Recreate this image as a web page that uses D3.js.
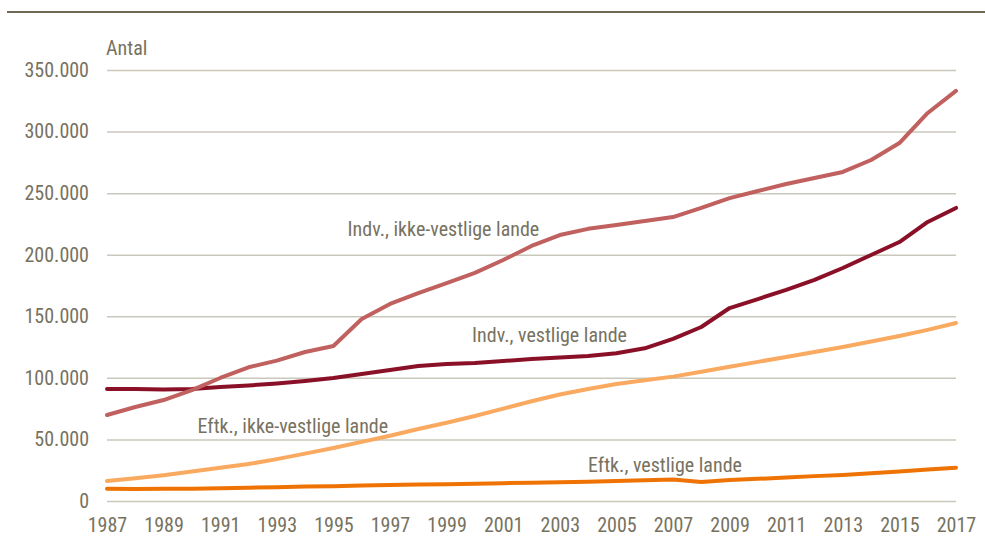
<!DOCTYPE html>
<html>
<head>
<meta charset="utf-8">
<script src="https://cdn.jsdelivr.net/npm/d3@7"></script>
<style>
  body { margin: 0; background: #fff; }
  text { font-family: "Liberation Sans Narrow", "Arial Narrow", "Roboto Condensed", sans-serif; }
</style>
</head>
<body>
<script>
// data
const years = d3.range(1987, 2018);
const indvIkkeVestlige = [69800, 76300, 82000, 90100, 99900, 108600, 114000, 121000, 125900, 147800,
  160000, 168900, 177000, 185200, 195700, 207100, 216000, 221000, 224100, 227400,
  230600, 238000, 246000, 251700, 257400, 262300, 267200, 276900, 290700, 315100, 333000];
const indvVestlige = [91000, 91000, 90600, 91000, 92500, 93800, 95500, 97500, 99900, 103100,
  106400, 109600, 111300, 112000, 113700, 115300, 116500, 117700, 120000, 124000,
  131600, 141300, 156700, 164000, 171400, 179500, 189200, 199800, 210300, 226600, 238000];
const eftkIkkeVestlige = [16200, 18500, 21000, 24000, 27000, 30000, 34000, 38500, 43000, 48000,
  53000, 58500, 63500, 69000, 75000, 81000, 86500, 91000, 95000, 98000,
  101000, 105000, 109000, 113000, 117000, 121000, 125000, 129500, 134000, 139000, 144500];
const eftkVestlige = [10000, 9800, 10000, 10000, 10300, 10800, 11200, 11700, 12000, 12500,
  13000, 13300, 13600, 14000, 14500, 14900, 15300, 15700, 16200, 16800,
  17500, 15500, 17000, 18000, 19000, 20200, 21200, 22500, 24000, 25500, 27000];
const seriesNames = ["Indv., ikke-vestlige lande", "Indv., vestlige lande", "Eftk., ikke-vestlige lande", "Eftk., vestlige lande"];
const seriesValues = [indvIkkeVestlige, indvVestlige, eftkIkkeVestlige, eftkVestlige];
const seriesColors = ["#c0605f", "#8a1028", "#f9aa60", "#ee7304"];
// label anchor: [year, value] where the text starts, on its baseline
const labelAnchors = [[1995.5, 215200], [1999.9, 129100], [1990.2, 55200], [2004.0, 23500]];
const yTicks = d3.range(0, 350001, 50000);
const xTicks = d3.range(1987, 2018, 2);

const width = 985, height = 544;
const margin = { left: 107, right: 29, top: 70, bottom: 43 };
const textColor = "#77725f";
const fontSize = "20px";

const svg = d3.select("body").append("svg")
  .attr("width", width)
  .attr("height", height);

// top rule
svg.append("line")
  .attr("x1", 7).attr("x2", width)
  .attr("y1", 12).attr("y2", 12)
  .attr("stroke", "#6f6a55").attr("stroke-width", 2);

const x = d3.scaleLinear().domain([1987, 2017]).range([margin.left, width - margin.right]);
const y = d3.scaleLinear().domain([0, 350000]).range([height - margin.bottom, margin.top]);

const locale = d3.formatLocale({ decimal: ",", thousands: ".", grouping: [3], currency: ["", " kr"] });
const fmt = locale.format(",");

// grid + y labels
const yAxis = svg.append("g")
  .attr("transform", "translate(" + margin.left + ",0)")
  .call(d3.axisLeft(y).tickValues(yTicks).tickFormat(fmt)
    .tickSize(-(width - margin.left - margin.right)).tickPadding(18));
yAxis.select(".domain").remove();
yAxis.selectAll(".tick line").attr("stroke", "#cac7bb").attr("stroke-width", 1.5);
yAxis.selectAll(".tick text").attr("fill", textColor).style("font-size", fontSize);

const xAxis = svg.append("g")
  .attr("transform", "translate(0," + (height - margin.bottom) + ")")
  .call(d3.axisBottom(x).tickValues(xTicks).tickFormat(d3.format("d")).tickSize(0).tickPadding(17));
xAxis.select(".domain").remove();
xAxis.selectAll(".tick text").attr("fill", textColor).style("font-size", fontSize);

svg.append("text")
  .attr("x", margin.left - 1).attr("y", 55)
  .attr("fill", textColor).style("font-size", fontSize)
  .text("Antal");

const line = d3.line()
  .x((d, i) => x(years[i]))
  .y(d => y(d));

// draw bottom series first so the big ones sit on top
const order = [3, 2, 1, 0];
order.forEach(k => {
  svg.append("path")
    .datum(seriesValues[k])
    .attr("fill", "none")
    .attr("stroke", seriesColors[k])
    .attr("stroke-width", 4)
    .attr("stroke-linejoin", "round")
    .attr("stroke-linecap", "round")
    .attr("d", line);
});

seriesNames.forEach((name, k) => {
  svg.append("text")
    .attr("x", x(labelAnchors[k][0]))
    .attr("y", y(labelAnchors[k][1]))
    .attr("fill", textColor)
    .style("font-size", fontSize)
    .text(name);
});
</script>
</body>
</html>
